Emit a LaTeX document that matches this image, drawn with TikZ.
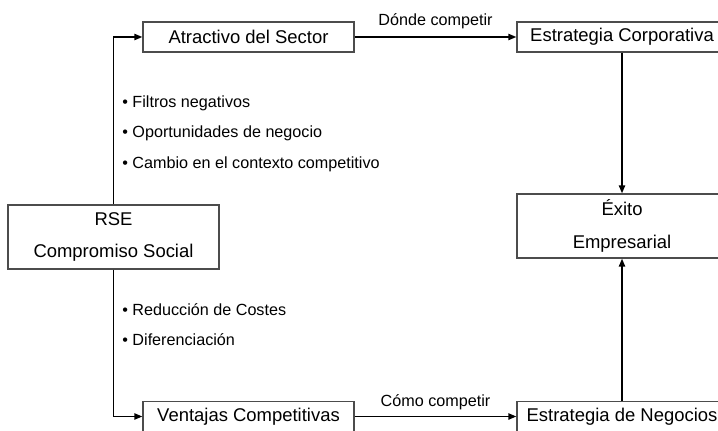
\documentclass[tikz,border=0pt]{standalone}
\usepackage{fontspec}
\setmainfont{Liberation Sans}
\usetikzlibrary{arrows.meta}

\tikzset{
    caja/.style={draw=black!70, line width=0.6pt, minimum width=4.22cm, minimum height=0.6cm,
        inner sep=0pt, font=\fontsize{10.5}{18.7}\selectfont, align=center},
    flecha/.style={line width=1.1pt, -{Triangle[length=0.16cm, width=0.12cm]}},
    etiqueta/.style={font=\fontsize{9.2}{11}\selectfont, inner sep=0pt},
    lista/.style={etiqueta, anchor=base west}
}

\begin{document}
\begin{tikzpicture}
        \useasboundingbox (0,0) rectangle (14.36,8.6);
        \clip (0,0) rectangle (14.36,8.6);

        % Cajas
        \node[caja] (atractivo) at (4.97, 7.86) {Atractivo del Sector};
        \node[caja, minimum width=4.2cm] (corporativa) at (12.44, 7.86) {Estrategia Corporativa};
        \node[caja, minimum height=1.28cm] (rse) at (2.27, 3.86) {RSE\\Compromiso Social};
        \node[caja, minimum width=4.2cm, minimum height=1.28cm] (exito) at (12.44, 4.08) {Éxito\\Empresarial};
        \node[caja] (ventajas) at (4.97, 0.27) {Ventajas Competitivas};
        \node[caja, minimum width=4.2cm] (negocios) at (12.44, 0.27) {Estrategia de Negocios};

        % Flechas desde la RSE
        \draw[flecha] (rse.north) |- (atractivo.west);
        \draw[flecha] (rse.south) |- (ventajas.west);

        % Dónde y cómo competir
        \draw[flecha] (atractivo) -- node[etiqueta, anchor=base, yshift=0.22cm] (donde) {Dónde competir} (corporativa);
        \draw[flecha] (ventajas) -- node[etiqueta, anchor=base, yshift=0.2cm] (como) {Cómo competir} (negocios);

        % Hacia el éxito empresarial
        \draw[flecha] (corporativa) -- (exito);
        \draw[flecha] (negocios) -- (exito);

        % Listas
        \node[lista] (filtros) at (2.44, 6.44) {• Filtros negativos};
        \node[lista] (oportunidades) at (2.44, 5.84) {• Oportunidades de negocio};
        \node[lista] (cambio) at (2.44, 5.24) {• Cambio en el contexto competitivo};
        \node[lista] (reduccion) at (2.44, 2.30) {• Reducción de Costes};
        \node[lista] (diferenciacion) at (2.44, 1.70) {• Diferenciación};
\end{tikzpicture}
\end{document}
